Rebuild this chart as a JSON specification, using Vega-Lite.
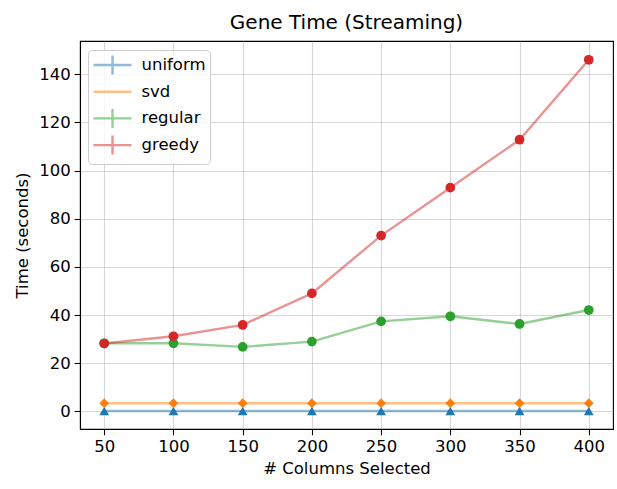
{
  "$schema": "https://vega.github.io/schema/vega-lite/v6.json",
  "width": 533,
  "height": 388,
  "autosize": {"type": "none"},
  "padding": {"left": 80, "top": 41, "right": 4, "bottom": 60},
  "background": "white",
  "title": {"text": "Gene Time (Streaming)", "fontSize": 20, "fontWeight": "normal", "font": "DejaVu Sans", "color": "black", "offset": 8},
  "config": {
    "view": {"stroke": "black", "strokeWidth": 1.1},
    "axis": {
      "labelFont": "DejaVu Sans", "labelFontSize": 16.5, "labelColor": "black",
      "titleFont": "DejaVu Sans", "titleFontSize": 16.5, "titleFontWeight": "normal", "titleColor": "black",
      "domainColor": "black", "domainWidth": 1.1, "tickColor": "black", "tickSize": 5.8, "tickWidth": 1.1,
      "labelPadding": 4, "gridColor": "#b0b0b0", "gridOpacity": 0.5, "gridWidth": 1.1
    },
    "legend": {"labelFont": "DejaVu Sans", "labelFontSize": 16.5, "labelColor": "black"}
  },
  "data": {"values": [
    {"method": "uniform", "columns": 50, "time": 0.2},
    {"method": "uniform", "columns": 100, "time": 0.2},
    {"method": "uniform", "columns": 150, "time": 0.2},
    {"method": "uniform", "columns": 200, "time": 0.2},
    {"method": "uniform", "columns": 250, "time": 0.2},
    {"method": "uniform", "columns": 300, "time": 0.2},
    {"method": "uniform", "columns": 350, "time": 0.2},
    {"method": "uniform", "columns": 400, "time": 0.2},
    {"method": "svd", "columns": 50, "time": 3.4},
    {"method": "svd", "columns": 100, "time": 3.4},
    {"method": "svd", "columns": 150, "time": 3.4},
    {"method": "svd", "columns": 200, "time": 3.4},
    {"method": "svd", "columns": 250, "time": 3.4},
    {"method": "svd", "columns": 300, "time": 3.4},
    {"method": "svd", "columns": 350, "time": 3.4},
    {"method": "svd", "columns": 400, "time": 3.4},
    {"method": "regular", "columns": 50, "time": 28.3},
    {"method": "regular", "columns": 100, "time": 28.3},
    {"method": "regular", "columns": 150, "time": 26.8},
    {"method": "regular", "columns": 200, "time": 29.0},
    {"method": "regular", "columns": 250, "time": 37.4},
    {"method": "regular", "columns": 300, "time": 39.5},
    {"method": "regular", "columns": 350, "time": 36.3},
    {"method": "regular", "columns": 400, "time": 42.1},
    {"method": "greedy", "columns": 50, "time": 28.2},
    {"method": "greedy", "columns": 100, "time": 31.2},
    {"method": "greedy", "columns": 150, "time": 35.9},
    {"method": "greedy", "columns": 200, "time": 49.0},
    {"method": "greedy", "columns": 250, "time": 73.0},
    {"method": "greedy", "columns": 300, "time": 92.9},
    {"method": "greedy", "columns": 350, "time": 112.8},
    {"method": "greedy", "columns": 400, "time": 146.0}
  ]},
  "encoding": {
    "x": {"field": "columns", "type": "quantitative",
      "scale": {"domain": [32.5, 417.5], "nice": false, "zero": false},
      "axis": {"values": [50, 100, 150, 200, 250, 300, 350, 400], "title": "# Columns Selected", "grid": true, "titlePadding": 5}},
    "y": {"field": "time", "type": "quantitative",
      "scale": {"domain": [-7.3, 153.8], "nice": false, "zero": false},
      "axis": {"values": [0, 20, 40, 60, 80, 100, 120, 140], "title": "Time (seconds)", "grid": true, "titlePadding": 8}}
  },
  "layer": [
    {
      "mark": {"type": "line", "opacity": 0.5, "strokeWidth": 2.4},
      "encoding": {
        "color": {"field": "method", "type": "nominal",
          "scale": {"domain": ["uniform", "svd", "regular", "greedy"], "range": ["#1f77b4", "#ff7f0e", "#2ca02c", "#d62728"]},
          "sort": ["uniform", "svd", "regular", "greedy"],
          "legend": {
            "title": null, "orient": "none", "legendX": 8, "legendY": 9,
            "fillColor": "rgba(255,255,255,0.8)", "strokeColor": "#cccccc", "cornerRadius": 4,
            "padding": 4, "symbolSize": 361, "symbolStrokeWidth": 2.4, "symbolOpacity": 0.5,
            "symbolOffset": 9.5,
            "rowPadding": -3.3, "labelOffset": 18,
            "encode": {"symbols": {"update": {"shape": {"signal": "datum.value === 'svd' ? 'M-2,0H2M0,-1V-1M0,1V1' : 'M-2,0H2M0,-1V1'"}}}}
          }
        }
      }
    },
    {
      "mark": {"type": "point", "filled": true, "opacity": 1, "size": 95},
      "encoding": {
        "fill": {
          "condition": [
            {"test": "datum.method === 'uniform'", "value": "#1f77b4"},
            {"test": "datum.method === 'svd'", "value": "#ff7f0e"},
            {"test": "datum.method === 'regular'", "value": "#2ca02c"}
          ],
          "value": "#d62728"
        },
        "shape": {
          "condition": [
            {"test": "datum.method === 'uniform'", "value": "triangle-up"},
            {"test": "datum.method === 'svd'", "value": "diamond"}
          ],
          "value": "circle"
        },
        "detail": {"field": "method", "type": "nominal"}
      }
    }
  ]
}
